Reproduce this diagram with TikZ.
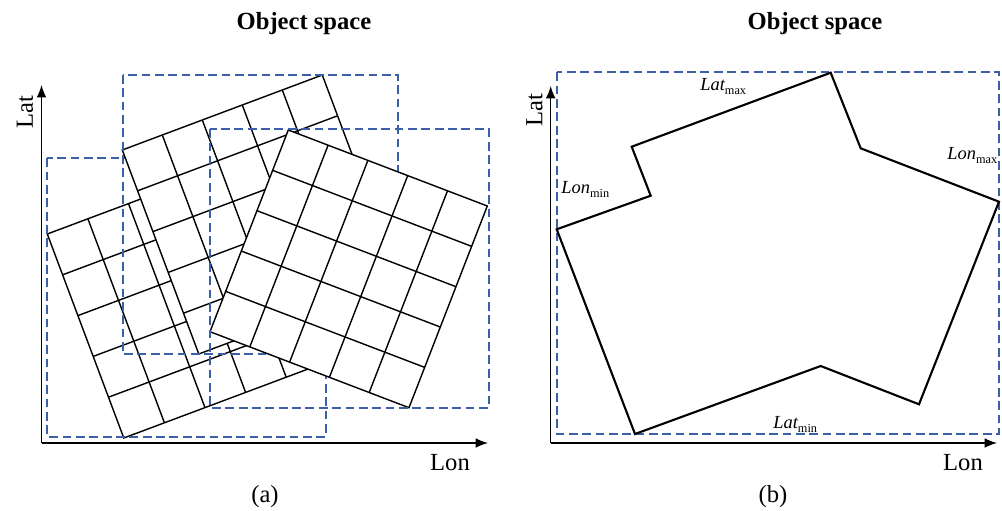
\documentclass[tikz,border=0pt]{standalone}
\usepackage{fontspec}
\setmainfont{Liberation Serif}
\usetikzlibrary{arrows.meta,calc}

\definecolor{boxblue}{RGB}{60,96,168}

\tikzset{
  bbox/.style={boxblue, dash pattern=on 5pt off 2.6pt, line width=1pt},
  cell/.style={black, line width=0.8pt},
  axis/.style={line width=0.7pt, -{Latex[length=7pt,width=5.5pt]}},
  outline/.style={line width=1.2pt, line join=miter},
  title/.style={font=\fontsize{14}{16}\selectfont\bfseries, anchor=base},
  axlabel/.style={font=\fontsize{14}{16}\selectfont},
  bnd/.style={font=\fontsize{10.5}{12}\selectfont, anchor=base west, inner sep=0pt},
}

% one tile: corner, first side, second side (5 x 5 cells)
\newcommand{\tilegrid}[3]{%
  \coordinate (o) at #1;
  \coordinate (ou) at ($(o)+#2$);
  \coordinate (ov) at ($(o)+#3$);
  \coordinate (ouv) at ($(ou)+#3$);
  \filldraw[cell, fill=white] (o) -- (ou) -- (ouv) -- (ov) -- cycle;
  \foreach \k in {0.2,0.4,0.6,0.8} {
    \draw[cell] ($(o)!\k!(ou)$) -- ($(ov)!\k!(ouv)$);
    \draw[cell] ($(o)!\k!(ov)$) -- ($(ou)!\k!(ouv)$);
  }}

\newcommand{\bound}[2]{{\itshape #1}\raisebox{-0.5ex}{\fontsize{7}{8}\selectfont #2}}

\begin{document}
\begin{tikzpicture}[x=0.02cm, y=-0.02cm]
  \useasboundingbox (0,0) rectangle (1002,511);

  % (a) overlapping tiles
  \node[title] (titleA) at (304,29.3) {Object space};
  \coordinate (oA) at (41.5,443);
  \coordinate (latA) at (41.5,85);
  \coordinate (lonA) at (488,443);
  \draw[axis] (oA) -- (latA);
  \draw[axis] (oA) -- (lonA);
  \node[axlabel, rotate=90] (latlabA) at (25,112) {Lat};
  \node[axlabel, anchor=base] (lonlabA) at (450,470.7) {Lon};

  \tilegrid{(47.3,234)}{(76.5,204)}{(203,-76)}
  \draw[bbox] (47.3,158.3) rectangle (325.7,436.7);
  \tilegrid{(122.3,150)}{(76.5,204)}{(200,-75)}
  \draw[bbox] (122.7,75) rectangle (398.3,354);
  \tilegrid{(210,331.7)}{(78.3,-201.7)}{(199,76)}
  \draw[bbox] (210,129.3) rectangle (489,407.7);

  \node[axlabel, anchor=base] (capA) at (265,502) {(a)};

  % (b) footprint and its bounds
  \node[title] (titleB) at (815,29.3) {Object space};
  \coordinate (oB) at (550.7,443);
  \coordinate (latB) at (550.7,86);
  \coordinate (lonB) at (997,443);
  \draw[axis] (oB) -- (latB);
  \draw[axis] (oB) -- (lonB);
  \node[axlabel, rotate=90] (latlabB) at (534.5,110) {Lat};
  \node[axlabel, anchor=base] (lonlabB) at (963,470.7) {Lon};

  \draw[bbox] (556.7,72.3) rectangle (999,434);

  \coordinate (p1) at (556.7,229.3);
  \coordinate (p2) at (650.7,195.7);
  \coordinate (p3) at (631.7,146.7);
  \coordinate (p4) at (830.7,72.7);
  \coordinate (p5) at (860.7,148.3);
  \coordinate (p6) at (999,201.7);
  \coordinate (p7) at (919,404.3);
  \coordinate (p8) at (820.7,366);
  \coordinate (p9) at (635,434);
  \draw[outline] (p1) -- (p2) -- (p3) -- (p4) -- (p5) -- (p6) -- (p7) -- (p8) -- (p9) -- cycle;

  \node[bnd] (latmax) at (700,90) {\bound{Lat}{max}};
  \node[bnd] (lonmin) at (561,193) {\bound{Lon}{min}};
  \node[bnd] (lonmax) at (947,159) {\bound{Lon}{max}};
  \node[bnd] (latmin) at (773,428) {\bound{Lat}{min}};

  \node[axlabel, anchor=base] (capB) at (773,502) {(b)};
\end{tikzpicture}
\end{document}
